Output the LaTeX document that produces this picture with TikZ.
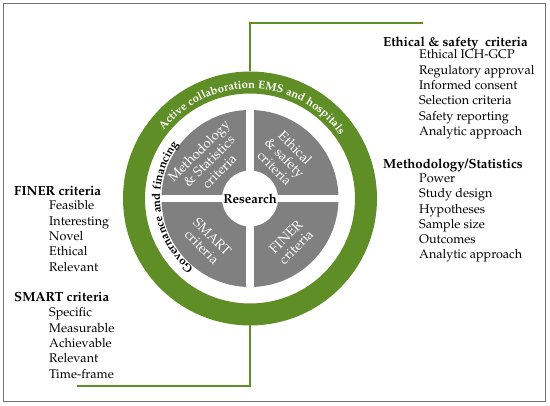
\documentclass[tikz,border=0pt]{standalone}
\usepackage[T1]{fontenc}
\usepackage{mathpazo}
\usepackage{tikz}
\usetikzlibrary{decorations.text}
\definecolor{ringgreen}{RGB}{96,142,38}
\definecolor{quadgray}{RGB}{128,128,128}
\tikzset{
  ring/.style={circle, draw=ringgreen, line width=22pt, minimum size=232pt, inner sep=0pt},
  hub/.style={circle, fill=quadgray, minimum size=177pt, inner sep=0pt},
  core/.style={circle, fill=white, minimum size=56pt, inner sep=0pt, font=\bfseries\fontsize{13}{15}\selectfont},
  quad/.style={text=white, align=center, inner sep=0pt, font=\fontsize{13.5}{14.5}\selectfont},
  link/.style={draw=ringgreen, line width=2pt},
  head/.style={anchor=north west, inner sep=0pt, font=\bfseries\fontsize{13.2}{15.3}\selectfont},
  items/.style={anchor=north west, inner sep=0pt, align=left, font=\fontsize{12.6}{15.3}\selectfont},
}

\begin{document}
\begin{tikzpicture}[x=1pt, y=-1pt] % ring, quadrants, 4 lists
   \useasboundingbox (0,0) rectangle (550,406);
   \draw[black!55, line width=1pt] (3,4) rectangle (545.5,401.5);

   \node[ring] (ring) at (250,198.5) {};
   \node[hub] (hub) at (250,198.5) {};
   \fill[white] ([xshift=-3.6pt]hub.north) rectangle ([xshift=3.6pt]hub.south);
   \fill[white] ([yshift=3.6pt]hub.west) rectangle ([yshift=-3.6pt]hub.east);
   \node[core] (research) at (250,198.5) {Research};

   \node[quad, rotate=45] (methq) at (209,161) {Methodology\\\& Statistics\\criteria};
   \node[quad, rotate=-45] (ethq) at (285,158) {Ethical\\\& safety\\criteria};
   \node[quad, rotate=-45] (smartq) at (207,242) {SMART\\criteria};
   \node[quad, rotate=45] (finerq) at (291,242) {FINER\\criteria};

   % texts round the ring
   \begin{scope}[shift={(250,198.5)}, y=1pt]
      \path[decorate, decoration={text along path, text align=center,
         text={|\color{white}\bfseries\fontsize{11.3}{13}\selectfont|Active collaboration EMS and hospitals}}]
         (149:110) arc[start angle=149, end angle=28, radius=110];
      \path[decorate, decoration={text along path, text align=center,
         text={|\bfseries\fontsize{11.5}{13}\selectfont|Governance and financing}}]
         (237:90) arc[start angle=237, end angle=137, radius=90];
   \end{scope}

   \coordinate (topend) at (422.7,22.7);
   \coordinate (botend) at (77,386);
   \draw[link] (ring.north) |- (topend);
   \draw[link] (ring.south) |- (botend);

   \node[head] (ethhead) at (383,36.5) {Ethical \& safety\ \ criteria};
   \node[items] (ethlist) at (419,49.5) {Ethical ICH-GCP\\Regulatory approval\\Informed consent\\Selection criteria\\Safety reporting\\Analytic approach};
   \node[head] (methhead) at (383,158.5) {Methodology/Statistics};
   \node[items] (methlist) at (419,173.5) {Power\\Study design\\Hypotheses\\Sample size\\Outcomes\\Analytic approach};
   \node[head] (finerhead) at (14,186.5) {FINER criteria};
   \node[items] (finerlist) at (49,200.5) {Feasible\\Interesting\\Novel\\Ethical\\Relevant};
   \node[head] (smarthead) at (14,292.5) {SMART criteria};
   \node[items] (smartlist) at (49,307.5) {Specific\\Measurable\\Achievable\\Relevant\\Time-frame};
\end{tikzpicture}
\end{document}
